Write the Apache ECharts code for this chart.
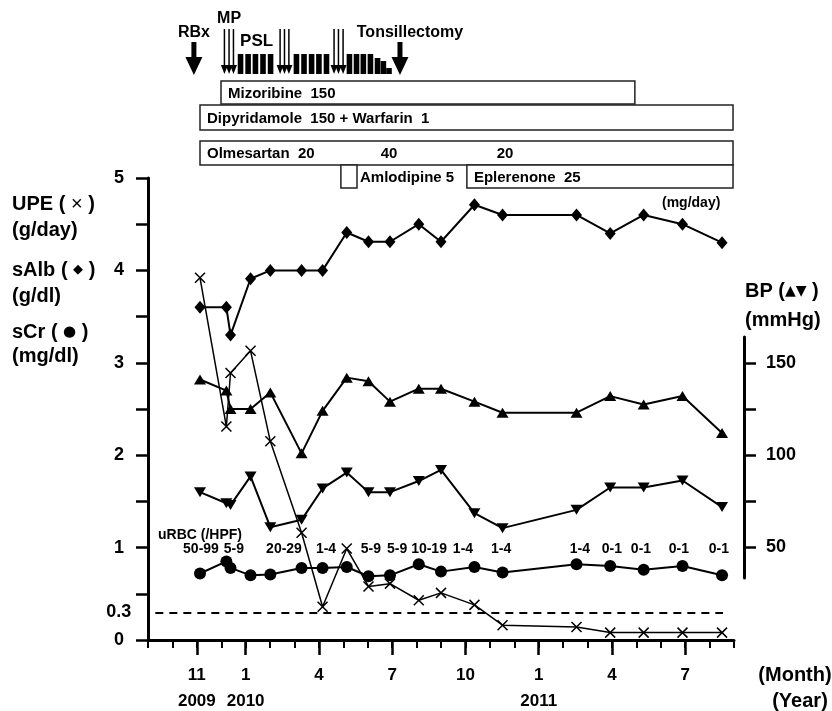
<!DOCTYPE html>
<html>
<head>
<meta charset="utf-8">
<script src="https://cdn.jsdelivr.net/npm/echarts@6/dist/echarts.min.js"></script>
<style>html,body{margin:0;padding:0;background:#fff}#c{width:832px;height:711px}</style>
</head>
<body>
<div id="c"></div>
<script>
// ---------------- DATA (months counted from Sep 2009 = 0) ----------------
const visitMonths = [2.13, 3.21, 3.38, 4.20, 5.01, 6.29, 7.15, 8.14, 9.03, 9.91, 11.09, 12.00, 13.37, 14.52, 17.55, 18.93, 20.30, 21.89, 23.51];
const upe  = [3.92, 2.31, 2.89, 3.13, 2.15, 1.16, 0.36, 0.99, 0.58, 0.61, 0.43, 0.51, 0.38, 0.16, 0.14, 0.08, 0.08, 0.08, 0.08];
const sAlb = [3.60, 3.60, 3.30, 3.91, 4.00, 4.00, 4.00, 4.41, 4.31, 4.31, 4.50, 4.31, 4.71, 4.60, 4.60, 4.40, 4.60, 4.50, 4.30];
const sCr  = [0.72, 0.85, 0.78, 0.70, 0.71, 0.78, 0.78, 0.79, 0.69, 0.70, 0.82, 0.74, 0.79, 0.73, 0.82, 0.80, 0.76, 0.80, 0.70];
const sbp  = [141, 135, 125, 125, 134, 101, 124, 142, 140, 129, 136, 136, 129, 123, 123, 132, 127.5, 132, 112];
const dbp  = [80, 74, 73, 88.5, 61, 65, 82, 90.6, 80, 80, 86, 92, 68.6, 60.5, 70.4, 82.5, 82.5, 86.3, 71.9];

const urbcText   = ['50-99', '5-9', '20-29', '1-4', '5-9', '5-9', '10-19', '1-4', '1-4', '1-4', '0-1', '0-1', '0-1', '0-1'];
const urbcMonths = [2.17, 3.52, 5.57, 7.29, 9.13, 10.20, 11.51, 12.90, 14.46, 17.69, 19.00, 20.19, 21.74, 23.38];

const upeTarget = 0.3;
const upeTargetSpan = [0.3, 23.55];

const monthTickValues = [2, 4, 7, 10, 13, 16, 19, 22];
const monthTickLabels = ['11', '1', '4', '7', '10', '1', '4', '7'];
const yearTickLabels  = ['2009', '2010', '', '', '', '2011', '', ''];
const leftTickLabels  = [0, 1, 2, 3, 4, 5];
const bpTickValues    = [50, 75, 100, 125, 150];
const bpTickLabels    = [50, 100, 150];

const drugNames = ['Mizoribine  150', 'Dipyridamole  150 + Warfarin  1', 'Olmesartan  20', 'Amlodipine 5', 'Eplerenone  25'];
const drugStart = [2.99, 2.13, 2.13, 7.90, 13.06];
const drugEnd   = [19.94, 23.96, 23.96, 8.56, 23.96];
const drugRow   = [0, 1, 2, 3, 3];
const doseText   = ['40', '20'];
const doseMonths = [9.87, 14.62];
const doseRow    = [2, 2];

const eventNames  = ['RBx', 'Tonsillectomy'];
const eventMonths = [1.88, 10.32];
const mpPulseMonths = [3.13, 3.32, 3.50, 5.41, 5.59, 5.77, 7.62, 7.80, 7.99];
const pslMonths  = [3.79, 4.10, 4.40, 4.71, 5.02, 6.08, 6.39, 6.70, 7.00, 7.31, 8.25, 8.54, 8.82, 9.11, 9.40, 9.64, 9.87];
const pslHeights = [1, 1, 1, 1, 1, 1, 1, 1, 1, 1, 1, 1, 1, 1, 0.8, 0.65, 0.3];
const regimenNames  = ['MP', 'PSL'];
const regimenMonths = [3.32, 4.45];

// ---------------- STYLE / LAYOUT ----------------
const FONT = '"Liberation Sans", Arial, Helvetica, sans-serif';
const ROW_TOP = [81, 105, 141, 165];
const ROW_H = [23, 25, 24, 23];
const EVENT_LABEL_DX = [0, 10];
const REGIMEN_LABEL_Y = [18.5, 41];
const REGIMEN_FONT = ['bold 16px ' + FONT, 'bold 17px ' + FONT];
const URBC_LEVEL = 0.985;

function px(api, m) { return api.coord([m, 0])[0]; }

function renderDrug(params, api) {
  const i = params.dataIndex;
  const x1 = px(api, drugStart[i]), x2 = px(api, drugEnd[i]);
  const r = drugRow[i], top = ROW_TOP[r], h = ROW_H[r];
  const inside = (x2 - x1) > 60;
  return { type: 'group', children: [
    { type: 'rect', shape: { x: x1, y: top, width: x2 - x1, height: h }, style: { fill: '#fff', stroke: '#222', lineWidth: 1.5 } },
    { type: 'text', style: { text: drugNames[i], x: inside ? x1 + 7 : x2 + 3, y: top + h / 2 + 1, align: 'left', verticalAlign: 'middle', font: 'bold 15px ' + FONT, fill: '#000' } }
  ] };
}
function renderDose(params, api) {
  const i = params.dataIndex, r = doseRow[i];
  return { type: 'text', style: { text: doseText[i], x: px(api, doseMonths[i]), y: ROW_TOP[r] + ROW_H[r] / 2 + 1, align: 'center', verticalAlign: 'middle', font: 'bold 15px ' + FONT, fill: '#000' } };
}
function renderEvent(params, api) {
  const i = params.dataIndex, x = px(api, eventMonths[i]);
  return { type: 'group', children: [
    { type: 'polygon', shape: { points: [[x - 2.5, 42], [x + 2.5, 42], [x + 2.5, 57], [x + 8.5, 57], [x, 75], [x - 8.5, 57], [x - 2.5, 57]] }, style: { fill: '#000' } },
    { type: 'text', style: { text: eventNames[i], x: x + EVENT_LABEL_DX[i], y: 33, align: 'center', verticalAlign: 'middle', font: 'bold 16px ' + FONT, fill: '#000' } }
  ] };
}
function renderMP(params, api) {
  const x = px(api, mpPulseMonths[params.dataIndex]);
  return { type: 'group', children: [
    { type: 'line', shape: { x1: x, y1: 29, x2: x, y2: 68 }, style: { stroke: '#000', lineWidth: 1.5 } },
    { type: 'polygon', shape: { points: [[x - 3.5, 65], [x + 3.5, 65], [x, 74]] }, style: { fill: '#000' } }
  ] };
}
function renderPSL(params, api) {
  const i = params.dataIndex, x = px(api, pslMonths[i]);
  const hh = 20 * pslHeights[i];
  return { type: 'rect', shape: { x: x - 2.8, y: 74 - hh, width: 5.6, height: hh }, style: { fill: '#000' } };
}
function renderRegimen(params, api) {
  const i = params.dataIndex;
  return { type: 'text', style: { text: regimenNames[i], x: px(api, regimenMonths[i]), y: REGIMEN_LABEL_Y[i], align: 'center', verticalAlign: 'middle', font: REGIMEN_FONT[i], fill: '#000' } };
}
function renderUrbc(params, api) {
  const i = params.dataIndex;
  const p = api.coord([urbcMonths[i], URBC_LEVEL]);
  return { type: 'text', style: { text: urbcText[i], x: p[0], y: p[1], align: 'center', verticalAlign: 'middle', font: 'bold 14px ' + FONT, fill: '#000' } };
}

function zip(xs, ys) { return xs.map((x, i) => [x, ys[i]]); }
function anchor(ms) { return ms.map(m => [m, 0]); }

const customBase = { type: 'custom', xAxisIndex: 0, yAxisIndex: 0, clip: false, silent: true, z: 5 };
const lineBase = { type: 'line', silent: true, lineStyle: { color: '#000', width: 2 }, itemStyle: { color: '#000' }, z: 3 };

function gText(x, y, text, font, align, rich) {
  return { type: 'text', x: x, y: y, silent: true, style: { text: text, font: font, fill: '#000', align: align || 'left', verticalAlign: 'middle', rich: rich } };
}
const TITLE_FONT = 'bold 20px ' + FONT;
const symRich = {
  c: { font: '20px ' + FONT, fill: '#000' },
  d: { font: '13px "DejaVu Sans", sans-serif', fill: '#000' },
  o: { font: '15px "DejaVu Sans", sans-serif', fill: '#000' },
  t: { font: '14px "DejaVu Sans", sans-serif', fill: '#000' }
};

const option = {
  backgroundColor: '#fff',
  animation: false,
  textStyle: { fontFamily: FONT, color: '#000' },
  grid: [
    { left: 148, right: 98, top: 178, bottom: 71 },
    { left: 148, right: 98, top: 337, bottom: 133 }
  ],
  xAxis: [
    { gridIndex: 0, type: 'value', min: 0, max: 24, interval: 1, position: 'bottom', offset: 0,
      axisLine: { show: true, onZero: false, lineStyle: { color: '#000', width: 3 } },
      axisTick: { show: true, length: 8, lineStyle: { color: '#000', width: 2 } },
      axisLabel: { show: false }, splitLine: { show: false } },
    { gridIndex: 0, type: 'value', min: 0, max: 24, position: 'bottom', offset: 0,
      axisLine: { show: false, onZero: false },
      axisTick: { show: true, customValues: monthTickValues, length: 15, lineStyle: { color: '#000', width: 2.5 } },
      axisLabel: { show: true, customValues: monthTickValues, margin: 22,
        formatter: function (v) {
          const i = monthTickValues.indexOf(Math.round(v));
          if (i < 0) return '';
          return yearTickLabels[i] ? '{m|' + monthTickLabels[i] + '}\n{m|' + yearTickLabels[i] + '}' : '{m|' + monthTickLabels[i] + '}';
        },
        rich: { m: { fontSize: 17, fontWeight: 'bold', lineHeight: 26, fontFamily: FONT, color: '#000' } } },
      splitLine: { show: false } },
    { gridIndex: 1, type: 'value', min: 0, max: 24, show: false }
  ],
  yAxis: [
    { gridIndex: 0, type: 'value', min: 0, max: 5, interval: 0.5,
      axisLine: { show: true, onZero: false, lineStyle: { color: '#000', width: 3 } },
      axisTick: { show: true, length: 12, lineStyle: { color: '#000', width: 2.5 } },
      axisLabel: { customValues: leftTickLabels, margin: 24, fontSize: 18, fontWeight: 'bold', color: '#000', fontFamily: FONT },
      splitLine: { show: false } },
    { gridIndex: 1, type: 'value', position: 'right', offset: 10, min: 33.5, max: 164,
      axisLine: { show: true, onZero: false, lineStyle: { color: '#000', width: 3 } },
      axisTick: { show: true, customValues: bpTickValues, length: 12, lineStyle: { color: '#000', width: 2.5 } },
      axisLabel: { customValues: bpTickLabels, margin: 22, fontSize: 18, fontWeight: 'bold', color: '#000', fontFamily: FONT },
      splitLine: { show: false } }
  ],
  graphic: [
    gText(12, 204, 'UPE ( {c|×} )', TITLE_FONT, 'left', symRich),
    gText(12, 230, '(g/day)', TITLE_FONT),
    gText(12, 270, 'sAlb ( {d|◆} )', TITLE_FONT, 'left', symRich),
    gText(12, 296, '(g/dl)', TITLE_FONT),
    gText(12, 332, 'sCr ( {o|●} )', TITLE_FONT, 'left', symRich),
    gText(12, 356, '(mg/dl)', TITLE_FONT),
    gText(745, 291, 'BP ({t|▲▼} )', TITLE_FONT, 'left', symRich),
    gText(745, 320, '(mmHg)', TITLE_FONT),
    gText(662, 203, '(mg/day)', 'bold 14px ' + FONT),
    gText(158, 535, 'uRBC (/HPF)', 'bold 14px ' + FONT),
    gText(795, 675, '(Month)', TITLE_FONT, 'center'),
    gText(800, 701, '(Year)', TITLE_FONT, 'center')
  ],
  series: [
    Object.assign({}, customBase, { name: 'drugs', data: anchor(drugStart), renderItem: renderDrug }),
    Object.assign({}, customBase, { name: 'doses', data: anchor(doseMonths), renderItem: renderDose, z: 6 }),
    Object.assign({}, customBase, { name: 'events', data: anchor(eventMonths), renderItem: renderEvent }),
    Object.assign({}, customBase, { name: 'mp', data: anchor(mpPulseMonths), renderItem: renderMP }),
    Object.assign({}, customBase, { name: 'psl', data: anchor(pslMonths), renderItem: renderPSL }),
    Object.assign({}, customBase, { name: 'regimen', data: anchor(regimenMonths), renderItem: renderRegimen }),
    Object.assign({}, customBase, { name: 'uRBC', data: urbcMonths.map(m => [m, URBC_LEVEL]), renderItem: renderUrbc, z: 4 }),
    Object.assign({}, lineBase, {
      name: 'UPE', data: zip(visitMonths, upe),
      symbol: 'path://M0,0L10,10M10,0L0,10', symbolSize: 10,
      itemStyle: { color: 'rgba(0,0,0,0)', borderColor: '#000', borderWidth: 1.5 },
      lineStyle: { color: '#000', width: 1.5 },
      markLine: {
        silent: true, symbol: 'none', animation: false,
        lineStyle: { color: '#000', width: 2, type: [8, 6] },
        label: { show: true, position: 'start', distance: 24, formatter: String(upeTarget), fontSize: 18, fontWeight: 'bold', color: '#000', fontFamily: FONT },
        data: [[{ coord: [upeTargetSpan[0], upeTarget] }, { coord: [upeTargetSpan[1], upeTarget] }]]
      }
    }),
    Object.assign({}, lineBase, { name: 'sAlb', data: zip(visitMonths, sAlb), symbol: 'diamond', symbolSize: [11, 13] }),
    Object.assign({}, lineBase, { name: 'sCr', data: zip(visitMonths, sCr), symbol: 'circle', symbolSize: 12 }),
    Object.assign({}, lineBase, { name: 'SBP', xAxisIndex: 2, yAxisIndex: 1, data: zip(visitMonths, sbp), symbol: 'triangle', symbolSize: [12, 10] }),
    Object.assign({}, lineBase, { name: 'DBP', xAxisIndex: 2, yAxisIndex: 1, data: zip(visitMonths, dbp), symbol: 'triangle', symbolRotate: 180, symbolSize: [12, 10] })
  ]
};

const chart = echarts.init(document.getElementById('c'), null, { renderer: 'canvas' });
chart.setOption(option);
</script>
</body>
</html>
